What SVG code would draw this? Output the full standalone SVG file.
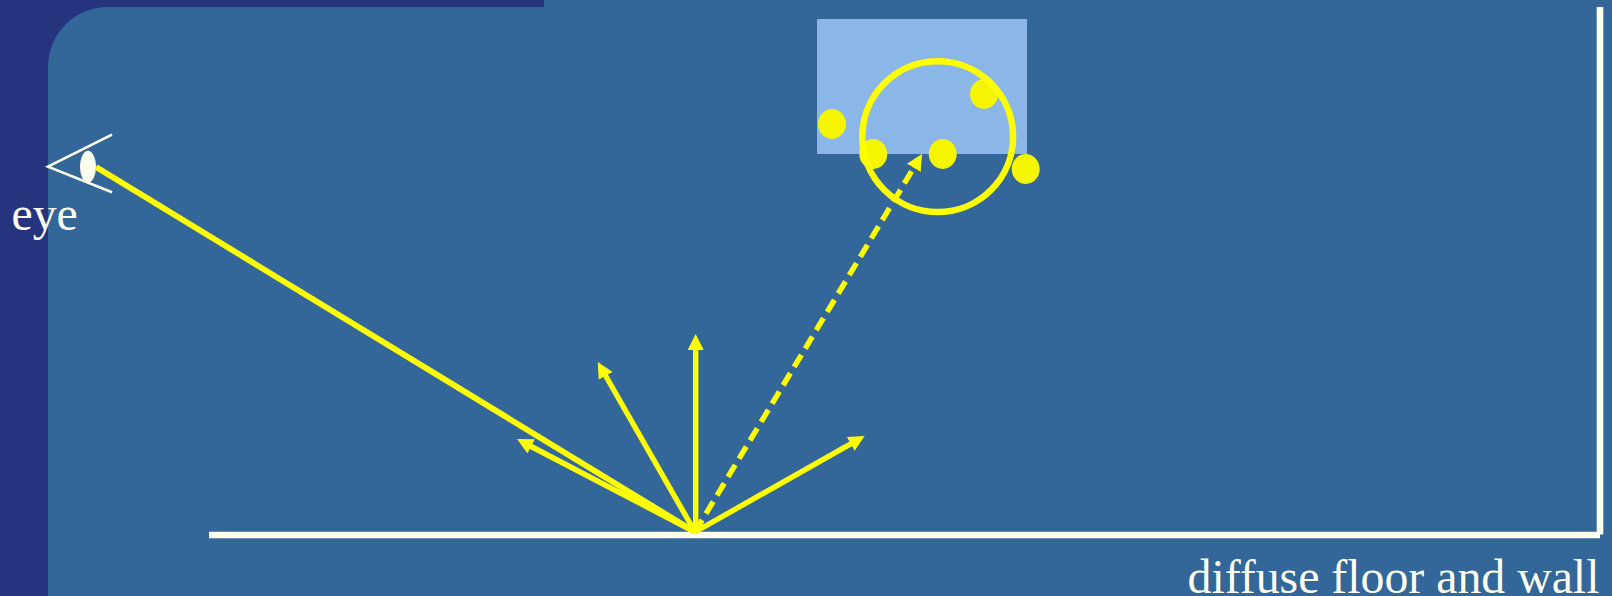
<svg xmlns="http://www.w3.org/2000/svg" width="1612" height="596" viewBox="0 0 1612 596">
<style>
.txt{font-family:"Liberation Serif","Times New Roman",serif;font-size:47.8px;fill:#ffffee;font-variant-ligatures:none}
.ray{stroke:#ffff00;stroke-width:5.4;fill:none}
.dot{fill:#f5f500}
.wht{stroke:#ffffee;fill:none}
</style>
<defs>
<marker id="head" markerUnits="userSpaceOnUse" markerWidth="18" markerHeight="18" refX="1" refY="9" orient="auto" viewBox="0 0 18 18">
<path d="M0 1L16 9L0 17Z" fill="#ffff00"/>
</marker>
</defs>
<rect id="background" width="1612" height="596" fill="#336699"/>
<path id="frame" d="M0 0H544V7H108A60 60 0 0 0 48 67V596H0Z" fill="#26337f"/>
<g id="light">
<rect x="817" y="19" width="210" height="135" fill="#8ab6e8"/>
<ellipse class="dot" cx="832" cy="124" rx="14" ry="15"/>
<ellipse class="dot" cx="873.3" cy="154" rx="14" ry="15"/>
<ellipse class="dot" cx="942.7" cy="154" rx="14" ry="15"/>
<ellipse class="dot" cx="984" cy="94" rx="14" ry="15"/>
<ellipse class="dot" cx="1025.7" cy="169" rx="14" ry="15"/>
<circle cx="937.7" cy="136.7" r="75.4" fill="none" stroke="#ffff00" stroke-width="6.5"/>
</g>
<g id="surface">
<path class="wht" stroke-width="6.6" d="M209 535H1600"/>
<path class="wht" stroke-width="6.6" d="M1600 7V534.500"/>
</g>
<g id="eye">
<path class="wht" stroke-width="2.6" d="M112 134.700L48 166.700L112 192.300"/>
<ellipse cx="88" cy="166.700" rx="8" ry="16" fill="#ffffee"/>
</g>
<g id="connectors">
<path class="ray" style="stroke-width:5.800" d="M96 167L695 532"/>
<path class="ray" marker-end="url(#head)" d="M695 532L530.300 446"/>
<path class="ray" marker-end="url(#head)" d="M695 532L605.200 375"/>
<path class="ray" marker-end="url(#head)" d="M695.700 532V349"/>
<path class="ray" marker-end="url(#head)" d="M695 532L851.600 443.400"/>
<path class="ray" marker-end="url(#head)" stroke-dasharray="14 7.400" d="M695 532L914.300 166.900"/>
</g>
<text id="eye-label" class="txt" x="11.500" y="230">eye</text>
<text id="floor-label" class="txt" x="1187.500" y="593">diffuse floor and wall</text>
</svg>
